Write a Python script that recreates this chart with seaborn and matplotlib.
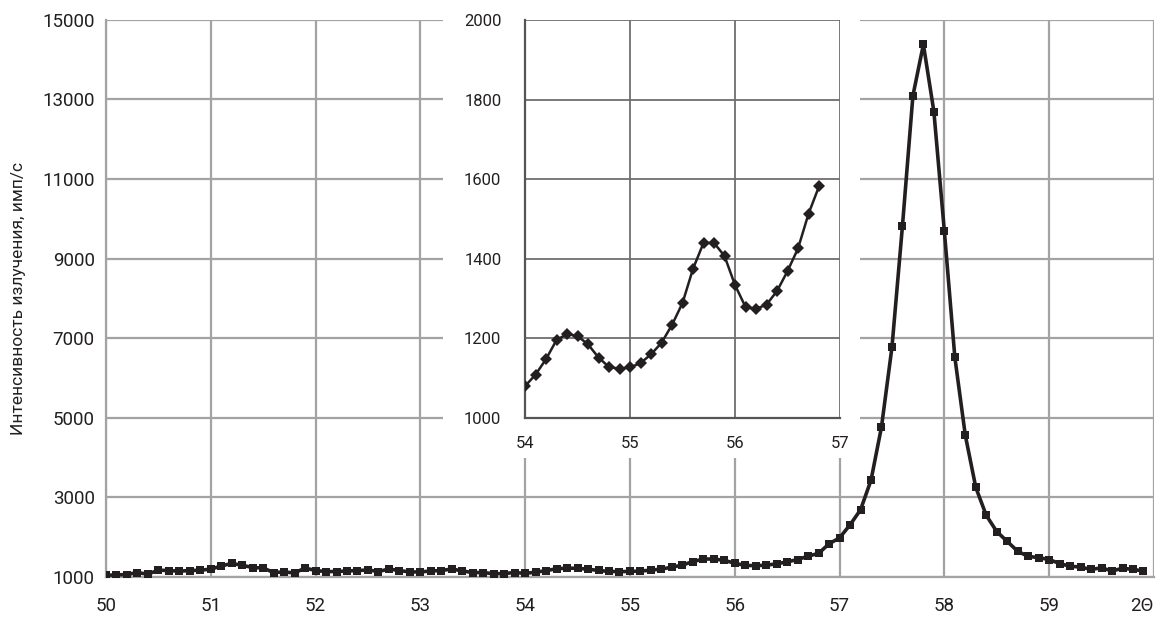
import numpy as np
import matplotlib
matplotlib.use('Agg')
import matplotlib.pyplot as plt
from matplotlib.patches import Rectangle
import seaborn as sns

# 2-theta grid, step 0.1
angle = np.round(np.arange(500, 600) / 10, 1)
intensity = [
    1030, 1042, 1050, 1100, 1060, 1160, 1150, 1135, 1150, 1160,
    1185, 1265, 1330, 1285, 1225, 1215, 1100, 1115, 1090, 1215,
    1150, 1125, 1125, 1140, 1150, 1165, 1125, 1190, 1150, 1115,
    1115, 1140, 1150, 1190, 1140, 1100, 1100, 1070, 1075, 1100,
    1080, 1109, 1148, 1196, 1211, 1206, 1185, 1152, 1128, 1124,
    1127, 1138, 1160, 1189, 1234, 1289, 1375, 1440, 1440, 1407,
    1334, 1279, 1274, 1285, 1319, 1369, 1426, 1513, 1582, 1824,
    1972, 2300, 2677, 3421, 4760, 6765, 9811, 13095, 14385, 12698,
    9692, 6517, 4552, 3242, 2538, 2131, 1883, 1635, 1506, 1476,
    1427, 1327, 1258, 1238, 1179, 1218, 1139, 1208, 1179, 1139,
]

# inset: 54.0 .. 56.8
inset_angle = angle[40:69]
inset_intensity = intensity[40:69]

main_yticks = [1000, 3000, 5000, 7000, 9000, 11000, 13000, 15000]
main_xticks = [50, 51, 52, 53, 54, 55, 56, 57, 58, 59, 60]
main_xlabels = ['50', '51', '52', '53', '54', '55', '56', '57', '58', '59', '2\u0398']
inset_yticks = [1000, 1200, 1400, 1600, 1800, 2000]
inset_xticks = [54, 55, 56, 57]

sns.set_style('white')
plt.rcParams['font.family'] = ['Roboto', 'DejaVu Sans']

fig = plt.figure(figsize=(11.58, 6.17), dpi=100)
ax = fig.add_axes([0.0915, 0.0656, 0.905, 0.902])

sns.lineplot(x=angle, y=intensity, ax=ax, color='#231f20', linewidth=2.6,
             marker='s', markersize=5.5, markeredgewidth=0, zorder=3)
ax.set_xlim(50, 60)
ax.set_ylim(1000, 15000)
ax.set_xticks(main_xticks)
ax.set_xticklabels(main_xlabels)
ax.set_yticks(main_yticks)
ax.grid(True, color='#a3a3a3', linewidth=1.6)
for s in ['top', 'right']:
    ax.spines[s].set_visible(False)
for s in ['left', 'bottom']:
    ax.spines[s].set_color('#a3a3a3')
    ax.spines[s].set_linewidth(1.6)
ax.tick_params(length=0, labelsize=13.5, colors='#231f20', pad=8)
ax.tick_params(axis='x', pad=15)
ax.get_xticklabels()[-1].set_horizontalalignment('right')
ax.set_ylabel('Интенсивность излучения, имп/с', fontsize=12.5, color='#231f20', labelpad=12)

# white background behind the inset
ax.add_patch(Rectangle((0.3826, 0.2577), 0.36, 0.75, transform=fig.transFigure,
                       facecolor='white', edgecolor='none', zorder=10, clip_on=False))

ins = fig.add_axes([0.4534, 0.3225, 0.272, 0.6451], zorder=5)
sns.lineplot(x=inset_angle, y=inset_intensity, ax=ins, color='#231f20', linewidth=1.8,
             marker='D', markersize=6.5, markeredgewidth=0, zorder=3)
ins.set_xlim(54, 57)
ins.set_ylim(1000, 2000)
ins.set_xticks(inset_xticks)
ins.set_yticks(inset_yticks)
ins.grid(True, color='#6e6e6e', linewidth=1.3)
for s in ['top', 'right']:
    ins.spines[s].set_visible(False)
for s in ['left', 'bottom']:
    ins.spines[s].set_color('#555555')
    ins.spines[s].set_linewidth(1.6)
ins.tick_params(direction='out', length=5, width=1.3, color='#555555',
                labelsize=12, labelcolor='#231f20', pad=4)
ins.tick_params(axis='y', pad=12)
ins.tick_params(axis='x', pad=8)

fig.savefig('out.png', dpi=100)
